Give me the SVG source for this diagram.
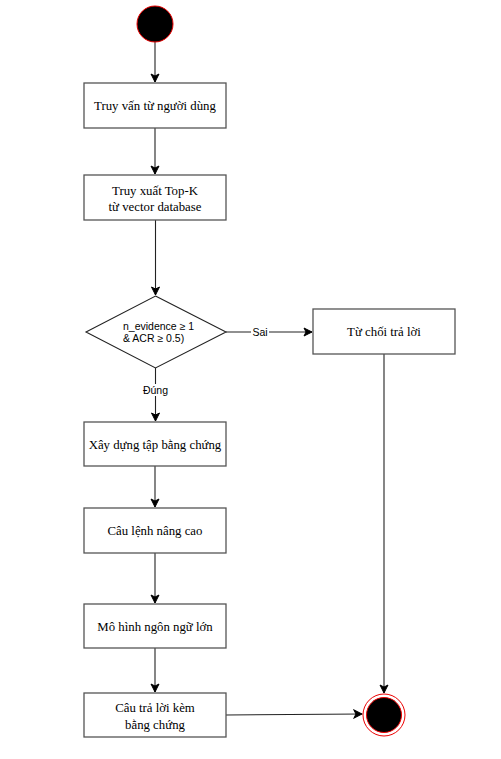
<svg xmlns="http://www.w3.org/2000/svg" width="501" height="759" viewBox="0 0 501 759">
<defs>
<marker id="arr" markerWidth="10" markerHeight="10" viewBox="0 0 10 10" refX="9" refY="5" orient="auto" markerUnits="userSpaceOnUse">
<path d="M1,1 L9,5 L1,9 L3,5 Z" fill="#000" stroke="#000" stroke-width="1"/>
</marker>
<style>
.box{fill:#fff;stroke:#555;stroke-width:1.3}
.t{font-family:"Liberation Serif","Times New Roman",serif;font-size:12.8px;fill:#000;text-anchor:middle}
.s{font-family:"Liberation Sans",Arial,sans-serif;font-size:10.5px;fill:#000}
.c{fill:none;stroke:#222;stroke-width:1.1}
</style>
</defs>
<rect width="501" height="759" fill="#fff"/>
<g id="connectors">
<line class="c" x1="155" y1="42" x2="155" y2="82" marker-end="url(#arr)"/>
<line class="c" x1="155" y1="128" x2="155" y2="174" marker-end="url(#arr)"/>
<line class="c" x1="155.5" y1="220" x2="155.5" y2="295" marker-end="url(#arr)"/>
<line class="c" x1="226" y1="332" x2="312" y2="332" marker-end="url(#arr)"/>
<line class="c" x1="155.5" y1="368" x2="155.5" y2="421" marker-end="url(#arr)"/>
<line class="c" x1="155" y1="466" x2="155" y2="507" marker-end="url(#arr)"/>
<line class="c" x1="155" y1="553" x2="155" y2="603" marker-end="url(#arr)"/>
<line class="c" x1="155" y1="648" x2="155" y2="692" marker-end="url(#arr)"/>
<line class="c" x1="226" y1="715" x2="362" y2="714" marker-end="url(#arr)"/>
<line class="c" x1="384" y1="354" x2="384" y2="693" marker-end="url(#arr)"/>
<rect x="251" y="326" width="18" height="12" fill="#fff"/>
<text class="s" x="260" y="335.5" text-anchor="middle">Sai</text>
<rect x="142" y="384" width="28" height="12" fill="#fff"/>
<text class="s" x="155.5" y="393.5" text-anchor="middle">Đúng</text>
</g>
<g id="start">
<circle cx="155" cy="24" r="18" fill="#000" stroke="#e00" stroke-width="1"/>
</g>
<g id="n1">
<rect class="box" x="84" y="83" width="142" height="45"/>
<text class="t" x="155" y="109.5">Truy vấn từ người dùng</text>
</g>
<g id="n2">
<rect class="box" x="84" y="175" width="142" height="45"/>
<text class="t" x="155" y="195">Truy xuất Top-K</text>
<text class="t" x="155" y="210.5">từ vector database</text>
</g>
<g id="decision">
<polygon points="155.5,296 226,332 155.5,368 86,332" fill="#fff" stroke="#222" stroke-width="1.1"/>
<text class="s" x="123" y="330">n_evidence ≥ 1</text>
<text class="s" x="123" y="342">&amp; ACR ≥ 0.5)</text>
</g>
<g id="reject">
<rect class="box" x="313" y="309" width="142" height="45"/>
<text class="t" x="384" y="336">Từ chối trả lời</text>
</g>
<g id="n3">
<rect class="box" x="84" y="422" width="142" height="44"/>
<text class="t" x="155" y="448.5">Xây dựng tập bằng chứng</text>
</g>
<g id="n4">
<rect class="box" x="84" y="508" width="142" height="45"/>
<text class="t" x="155" y="534.5">Câu lệnh nâng cao</text>
</g>
<g id="n5">
<rect class="box" x="84" y="604" width="142" height="44"/>
<text class="t" x="155" y="630.5">Mô hình ngôn ngữ lớn</text>
</g>
<g id="n6">
<rect class="box" x="84" y="693" width="142" height="44"/>
<text class="t" x="155" y="712">Câu trả lời kèm</text>
<text class="t" x="155" y="728.5">bằng chứng</text>
</g>
<g id="end">
<circle cx="384" cy="715" r="21" fill="#fff" stroke="#e00" stroke-width="1"/>
<circle cx="384" cy="715" r="17.5" fill="#000" stroke="#e00" stroke-width="1"/>
</g>
</svg>
